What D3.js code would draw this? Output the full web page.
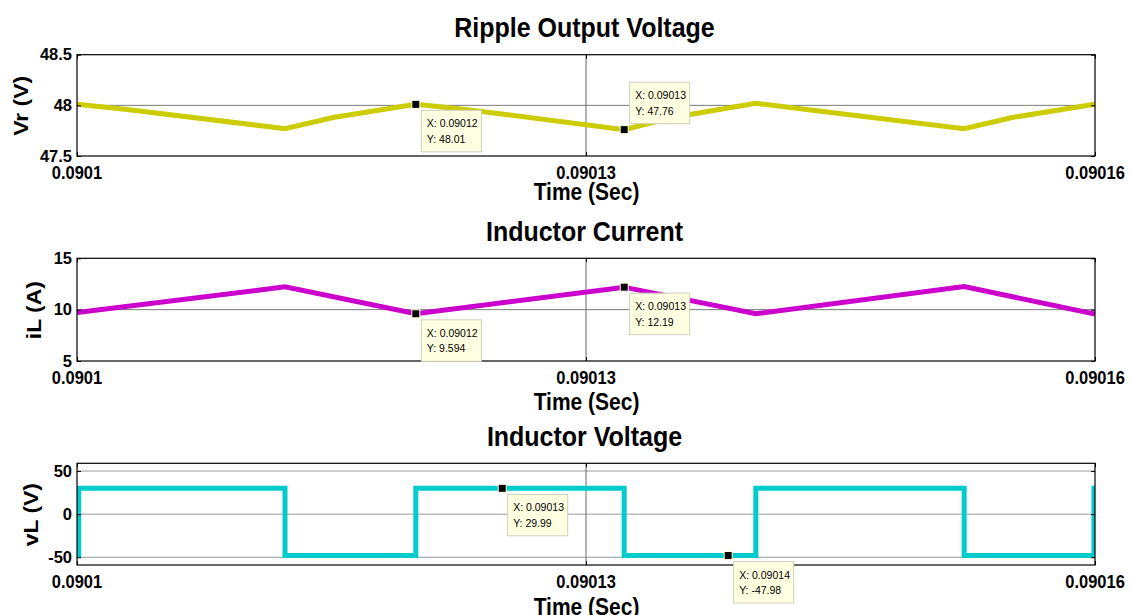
<!DOCTYPE html>
<html><head><meta charset="utf-8">
<script src="https://cdn.jsdelivr.net/npm/d3@7"></script>
<style>body{margin:0;background:#fff} svg{display:block}</style>
</head><body>
<svg id="chart" width="1131" height="615"></svg>
<script>
// ---------- data ----------
const timeDomain = [0.0901, 0.09016];
const xTickValues = [0.0901, 0.09013, 0.09016];
const xTickLabels = ["0.0901", "0.09013", "0.09016"];

// Ripple output voltage
const vrTime  = [0.0901, 0.09010295, 0.09011226, 0.09011509, 0.09011997, 0.09012290, 0.09013225, 0.09013508, 0.09014001, 0.09014300, 0.09015229, 0.09015512, 0.09016];
const vrValue = [48.01, 47.96, 47.77, 47.88, 48.01, 47.96, 47.76, 47.88, 48.02, 47.96, 47.77, 47.88, 48.01];
const vrDomain = [47.5, 48.5];
const vrTicks = [47.5, 48, 48.5];
const vrTickLabels = ["47.5", "48", "48.5"];
const vrTipTime = [0.09011997, 0.09013225];
const vrTipValue = [48.01, 47.76];
const vrTipTextX = ["0.09012", "0.09013"];
const vrTipTextY = ["48.01", "47.76"];
const vrTipSide = ["below", "above"];

// Inductor current
const ilTime  = [0.0901, 0.09011226, 0.09011997, 0.09013225, 0.09014001, 0.09015229, 0.09016];
const ilValue = [9.72, 12.22, 9.594, 12.19, 9.60, 12.24, 9.58];
const ilDomain = [5, 15];
const ilTicks = [5, 10, 15];
const ilTickLabels = ["5", "10", "15"];
const ilTipTime = [0.09011997, 0.09013225];
const ilTipValue = [9.594, 12.19];
const ilTipTextX = ["0.09012", "0.09013"];
const ilTipTextY = ["9.594", "12.19"];
const ilTipSide = ["below", "below"];

// Inductor voltage (step signal)
const vlTime  = [0.0901, 0.09010010, 0.09011226, 0.09011997, 0.09013225, 0.09014001, 0.09015229, 0.09015994, 0.09016];
const vlValue = [-47.98, 29.99, -47.98, 29.99, -47.98, 29.99, -47.98, 29.99, 29.99];
const vlDomain = [-59, 59];
const vlTicks = [-50, 0, 50];
const vlTickLabels = ["-50", "0", "50"];
const vlTipTime = [0.09012506, 0.09013838];
const vlTipValue = [29.99, -47.98];
const vlTipTextX = ["0.09013", "0.09014"];
const vlTipTextY = ["29.99", "-47.98"];
const vlTipSide = ["below", "below"];

// ---------- layout / styling ----------
const svg = d3.select("#chart");
const FONT = "'Liberation Sans', Arial, Helvetica, sans-serif";
const left = 77, right = 1095;

const panels = [
  {title: "Ripple Output Voltage", ylabel: "Vr (V)", top: 54.7, bottom: 156, color: "#cccc00",
   time: vrTime, value: vrValue, domain: vrDomain, ticks: vrTicks, tickLabels: vrTickLabels,
   tipTime: vrTipTime, tipValue: vrTipValue, tipX: vrTipTextX, tipY: vrTipTextY, tipSide: vrTipSide,
   step: false, ylabelX: 28, xlabelOff: 43.5, gridColor: "#7a7a7a"},
  {title: "Inductor Current", ylabel: "iL (A)", top: 258.3, bottom: 361, color: "#cc00cc",
   time: ilTime, value: ilValue, domain: ilDomain, ticks: ilTicks, tickLabels: ilTickLabels,
   tipTime: ilTipTime, tipValue: ilTipValue, tipX: ilTipTextX, tipY: ilTipTextY, tipSide: ilTipSide,
   step: false, ylabelX: 41, xlabelOff: 48.5, gridColor: "#7a7a7a"},
  {title: "Inductor Voltage", ylabel: "vL (V)", top: 463.3, bottom: 565, color: "#00cccc",
   time: vlTime, value: vlValue, domain: vlDomain, ticks: vlTicks, tickLabels: vlTickLabels,
   tipTime: vlTipTime, tipValue: vlTipValue, tipX: vlTipTextX, tipY: vlTipTextY, tipSide: vlTipSide,
   step: true, ylabelX: 38, xlabelOff: 50, gridColor: "#9a9a9a"}
];

function stretchedText(g, x, y, txt, size, weight, anchor, sy, rot) {
  return g.append("text")
    .attr("transform", `translate(${x},${y}) scale(1,${sy})` + (rot ? ` rotate(${rot})` : ""))
    .attr("font-family", FONT).attr("font-size", size).attr("font-weight", weight)
    .attr("text-anchor", anchor).attr("fill", "#000").text(txt);
}

panels.forEach((p, i) => {
  const g = svg.append("g");
  const x = d3.scaleLinear().domain(timeDomain).range([left, right]);
  const y = d3.scaleLinear().domain(p.domain).range([p.bottom, p.top]);

  // white plot area
  g.append("rect").attr("x", left).attr("y", p.top).attr("width", right - left).attr("height", p.bottom - p.top)
    .attr("fill", "#fff");

  // grid lines (interior only)
  p.ticks.filter(t => y(t) > p.top + 1 && y(t) < p.bottom - 1).forEach(t => {
    g.append("line").attr("x1", left).attr("x2", right).attr("y1", y(t)).attr("y2", y(t))
      .attr("stroke", p.gridColor).attr("stroke-width", 1);
  });
  xTickValues.filter(t => x(t) > left + 1 && x(t) < right - 1).forEach(t => {
    g.append("line").attr("x1", x(t)).attr("x2", x(t)).attr("y1", p.top).attr("y2", p.bottom)
      .attr("stroke", "#6a6a6a").attr("stroke-width", 1);
  });

  // clip
  const cid = "clip" + i;
  svg.append("clipPath").attr("id", cid).append("rect")
    .attr("x", left).attr("y", p.top).attr("width", right - left).attr("height", p.bottom - p.top);

  // data line
  const pts = p.time.map((t, k) => [t, p.value[k]]);
  const line = d3.line().x(d => x(d[0])).y(d => y(d[1]))
    .curve(p.step ? d3.curveStepAfter : d3.curveLinear);
  g.append("path").datum(pts).attr("clip-path", `url(#${cid})`)
    .attr("d", line).attr("fill", "none").attr("stroke", p.color)
    .attr("stroke-width", 5).attr("stroke-linejoin", "miter");

  // axes ticks (inward)
  const yAxL = d3.axisLeft(y).tickValues(p.ticks).tickSize(-4).tickFormat("");
  const yAxR = d3.axisRight(y).tickValues(p.ticks).tickSize(-4).tickFormat("");
  const xAxB = d3.axisBottom(x).tickValues(xTickValues).tickSize(-4).tickFormat("");
  const xAxT = d3.axisTop(x).tickValues(xTickValues).tickSize(-4).tickFormat("");
  [[yAxL, `translate(${left},0)`], [yAxR, `translate(${right},0)`],
   [xAxB, `translate(0,${p.bottom})`], [xAxT, `translate(0,${p.top})`]].forEach(([ax, tr]) => {
    const a = g.append("g").attr("transform", tr).call(ax);
    a.select(".domain").remove();
    a.selectAll("line").attr("stroke", "#000").attr("stroke-width", 1);
  });

  // box
  g.append("rect").attr("x", left).attr("y", p.top).attr("width", right - left).attr("height", p.bottom - p.top)
    .attr("fill", "none").attr("stroke", "#000").attr("stroke-width", 1.2);

  // y tick labels
  p.ticks.forEach((t, k) => {
    stretchedText(g, 72, y(t) + 5.5, p.tickLabels[k], 16.5, "bold", "end", 1.0);
  });
  // x tick labels
  xTickValues.forEach((t, k) => {
    stretchedText(g, x(t), p.bottom + 22.6, xTickLabels[k], 16.5, "bold", "middle", 1.12);
  });
  // x label
  stretchedText(g, (left + right) / 2 + 0.5, p.bottom + p.xlabelOff, "Time (Sec)", 21, "bold", "middle", 1.18);
  // title
  stretchedText(g, (left + right) / 2 - 1.5, p.top - 17.8, p.title, 25, "bold", "middle", 1.08);
  // y label
  stretchedText(g, p.ylabelX, (p.top + p.bottom) / 2 + 0.5, p.ylabel, 20.5, "bold", "middle", 1.12, -90);

  // data tips
  p.tipTime.forEach((t, k) => {
    const mx = x(t), my = y(p.tipValue[k]);
    const bw = 60, bh = 41.5;
    const bx = mx + 5.5;
    const by = p.tipSide[k] === "below" ? my + 6 : my - 6 - bh;
    const tg = svg.append("g");
    tg.append("rect").attr("x", bx).attr("y", by).attr("width", bw).attr("height", bh)
      .attr("fill", "#ffffe1").attr("stroke", "#cfcfbd").attr("stroke-width", 1);
    tg.append("text").attr("x", bx + 5.5).attr("y", by + 17).attr("font-family", FONT)
      .attr("font-size", 10.5).attr("fill", "#000").text("X: " + p.tipX[k]);
    tg.append("text").attr("x", bx + 5.5).attr("y", by + 32.5).attr("font-family", FONT)
      .attr("font-size", 10.5).attr("fill", "#000").text("Y: " + p.tipY[k]);
    tg.append("rect").attr("x", mx - 4).attr("y", my - 4).attr("width", 8).attr("height", 8)
      .attr("fill", "#000").attr("stroke", "#ffffe1").attr("stroke-width", 1);
  });
});
</script>
</body></html>
